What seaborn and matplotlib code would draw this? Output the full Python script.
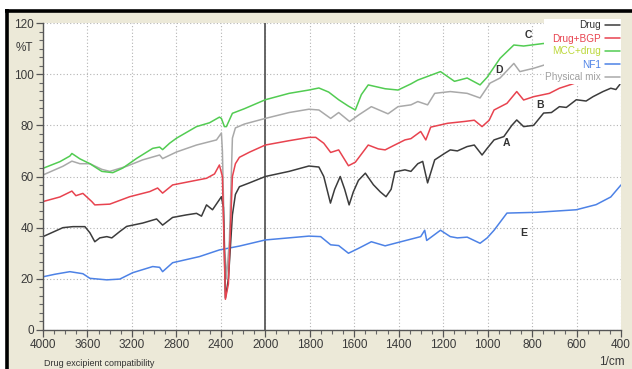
import numpy as np
import pandas as pd
import matplotlib
matplotlib.use("Agg")
import matplotlib.pyplot as plt
from matplotlib.lines import Line2D
from matplotlib.patches import Rectangle
from matplotlib.ticker import FixedLocator, AutoMinorLocator
import seaborn as sns

# ---- FTIR spectra (wavenumber in 1/cm, transmittance in %T) ----
drug_wn = [4000, 3821, 3731, 3623, 3578, 3534, 3489, 3426, 3381, 3309, 3247, 3103, 2978, 2924,
           2834, 2709, 2619, 2574, 2529, 2475, 2395, 2377, 2359, 2332, 2296, 2269, 2233, 2143,
           2000, 1893, 1804, 1759, 1737, 1707, 1688, 1663, 1643, 1623, 1604, 1581, 1550, 1514,
           1483, 1457, 1434, 1417, 1372, 1345, 1314, 1292, 1270, 1238, 1194, 1168, 1136, 1092,
           1060, 1025, 1002, 971, 927, 891, 869, 838, 793, 748, 713, 677, 646, 601, 557, 526,
           481, 446, 423, 405]
drug_t = [36.5, 40.0, 40.4, 40.4, 38.0, 34.5, 36.0, 36.5, 36.0, 38.5, 40.5, 41.8, 43.4, 41.0,
          44.0, 45.0, 45.6, 44.5, 48.9, 47.0, 52.1, 48.0, 12.5, 20.0, 45.0, 53.0, 56.0, 57.5,
          60.0, 62.0, 64.1, 63.7, 60.0, 49.6, 55.0, 60.0, 55.0, 48.9, 54.0, 58.5, 61.3, 56.8,
          54.0, 52.1, 55.0, 61.8, 62.6, 62.0, 65.0, 65.9, 57.5, 66.5, 69.0, 70.4, 70.0, 71.7,
          72.3, 68.4, 71.0, 74.3, 75.6, 80.0, 82.1, 79.5, 80.0, 84.8, 85.0, 87.3, 87.0, 90.0,
          89.5, 91.2, 93.2, 94.5, 94.0, 96.0]

bgp_wn = [4000, 3848, 3740, 3704, 3641, 3561, 3534, 3399, 3220, 3040, 2969, 2924, 2834, 2682,
          2529, 2457, 2413, 2386, 2359, 2332, 2296, 2269, 2233, 2143, 2000, 1893, 1804, 1773,
          1737, 1706, 1670, 1626, 1595, 1537, 1492, 1461, 1425, 1372, 1345, 1301, 1278, 1256,
          1180, 1105, 1060, 1025, 993, 971, 913, 869, 838, 793, 722, 677, 624, 557, 490, 423, 405]
bgp_t = [50.2, 52.0, 54.3, 52.5, 53.4, 50.2, 48.9, 49.2, 52.1, 54.1, 55.5, 53.5, 56.7, 58.0,
         59.3, 61.0, 64.5, 60.0, 12.0, 18.0, 60.0, 65.0, 67.5, 69.5, 72.3, 74.0, 75.3, 75.3,
         73.0, 69.4, 70.4, 64.2, 65.6, 72.3, 70.8, 70.4, 72.0, 74.3, 74.8, 77.6, 74.3, 79.3,
         80.8, 81.5, 82.0, 79.5, 82.0, 86.0, 88.6, 93.2, 89.9, 91.2, 92.5, 94.5, 96.0, 98.0,
         99.5, 101.6, 102.0]

mcc_wn = [4000, 3848, 3758, 3740, 3668, 3578, 3471, 3372, 3282, 3157, 3013, 2951, 2924, 2861,
          2798, 2619, 2502, 2413, 2395, 2368, 2350, 2296, 2188, 2000, 1893, 1804, 1759, 1715,
          1670, 1626, 1595, 1568, 1537, 1461, 1403, 1345, 1314, 1212, 1149, 1092, 1034, 1002,
          944, 882, 838, 748, 726, 646, 512]
mcc_t = [63.2, 65.8, 68.0, 69.0, 66.9, 65.0, 62.0, 61.5, 63.3, 67.1, 71.0, 71.5, 70.5, 73.0,
         75.0, 79.5, 81.0, 83.2, 82.7, 79.5, 79.5, 84.7, 86.5, 90.0, 92.5, 93.8, 94.6, 93.0,
         90.0, 87.5, 86.0, 92.0, 95.8, 94.3, 93.8, 96.2, 97.7, 101.0, 97.2, 98.5, 95.8, 98.8,
         106.2, 111.4, 111.0, 112.0, 111.5, 112.0, 113.0]

nf1_wn = [4000, 3892, 3758, 3641, 3578, 3426, 3309, 3193, 3013, 2951, 2924, 2834, 2592, 2413,
          2233, 2000, 1804, 1751, 1706, 1670, 1626, 1581, 1523, 1461, 1390, 1301, 1283, 1274,
          1212, 1168, 1136, 1092, 1034, 1002, 971, 913, 780, 601, 512, 446, 400]
nf1_t = [20.8, 21.8, 22.8, 22.0, 20.2, 19.6, 19.9, 22.4, 24.8, 24.5, 22.8, 26.3, 28.7, 31.3,
         32.8, 35.2, 36.7, 36.5, 33.3, 33.0, 30.0, 31.9, 34.5, 32.9, 34.5, 36.5, 39.0, 35.0,
         39.0, 36.5, 36.0, 36.3, 33.9, 36.0, 39.0, 45.7, 46.0, 47.0, 49.0, 52.0, 56.7]

mix_wn = [4000, 3821, 3740, 3668, 3578, 3471, 3399, 3247, 3103, 2951, 2924, 2798, 2619, 2439,
          2395, 2386, 2368, 2350, 2323, 2296, 2269, 2188, 2000, 1893, 1804, 1759, 1706, 1670,
          1621, 1581, 1523, 1448, 1403, 1345, 1314, 1270, 1238, 1168, 1092, 1034, 989, 944,
          882, 855, 793, 722, 691, 601, 468, 405]
mix_t = [60.6, 64.0, 66.0, 65.0, 65.0, 62.8, 62.0, 64.0, 66.5, 68.4, 67.0, 69.6, 72.3, 74.3,
         77.0, 70.0, 35.0, 20.0, 35.0, 75.0, 79.0, 80.5, 82.7, 85.0, 86.3, 86.0, 82.7, 85.0,
         81.5, 84.0, 87.3, 84.5, 87.3, 88.0, 89.3, 88.0, 92.5, 93.2, 92.5, 90.7, 96.5, 98.5,
         104.2, 101.0, 102.3, 104.2, 106.2, 107.0, 109.0, 110.0]

series_names = ["NF1", "Physical mix", "MCC+drug", "Drug", "Drug+BGP"]
series_wn = [nf1_wn, mix_wn, mcc_wn, drug_wn, bgp_wn]
series_t = [nf1_t, mix_t, mcc_t, drug_t, bgp_t]

line_colors = {"Drug": "#3c3c3c", "Drug+BGP": "#e8434f", "MCC+drug": "#52cc52",
               "NF1": "#4d82e6", "Physical mix": "#a9a9a9"}
label_colors = {"Drug": "#333333", "Drug+BGP": "#e8434f", "MCC+drug": "#bcd83a",
                "NF1": "#4d82e6", "Physical mix": "#a0a0a0"}
legend_order = ["Drug", "Drug+BGP", "MCC+drug", "NF1", "Physical mix"]

# curve letters: (label, wavenumber, %T)
curve_tags = [("A", 913, 73.0), ("B", 766, 88.0), ("C", 815, 115.3),
              ("D", 949, 101.6), ("E", 838, 38.0)]

x_major = [4000, 3600, 3200, 2800, 2400, 2000, 1800, 1600, 1400, 1200, 1000, 800, 600, 400]
y_major = [0, 20, 40, 60, 80, 100, 120]

frames = []
for name, wn, t in zip(series_names, series_wn, series_t):
    frames.append(pd.DataFrame({"wavenumber": wn, "T": t, "sample": name}))
spectra = pd.concat(frames, ignore_index=True)

sns.set_style("white")
plt.rcParams["font.family"] = ["Liberation Sans", "DejaVu Sans"]

fig = plt.figure(figsize=(6.32, 3.69), dpi=100, facecolor="white")

# instrument-software style panel
fig.add_artist(Rectangle((7 / 632, 0), 1 - 7 / 632, 1 - 11 / 369, transform=fig.transFigure,
                         facecolor="#ece9d8", edgecolor="none", zorder=-10))
fig.add_artist(Line2D([5 / 632, 1], [1 - 10.5 / 369] * 2, transform=fig.transFigure,
                      color="black", lw=2.6, solid_capstyle="butt"))
fig.add_artist(Line2D([6.5 / 632] * 2, [0, 1 - 9 / 369], transform=fig.transFigure,
                      color="black", lw=2.6, solid_capstyle="butt"))

ax = fig.add_axes([43 / 632, 1 - 330 / 369, (621 - 43) / 632, (330 - 23) / 369])
ax.set_facecolor("white")


# split wavenumber axis: 4000-2000 compressed, 2000-400 expanded twofold
def fwd(w):
    w = np.asarray(w, dtype=float)
    return np.where(w >= 2000, w / 400.0, 5.0 - (2000.0 - w) / 200.0)


def inv(u):
    u = np.asarray(u, dtype=float)
    return np.where(u >= 5, u * 400.0, 1000.0 + 200.0 * u)


ax.set_xscale("function", functions=(fwd, inv))

sns.lineplot(data=spectra, x="wavenumber", y="T", hue="sample", palette=line_colors,
             hue_order=series_names, estimator=None, sort=False, lw=1.1, legend=False, ax=ax)

ax.set_xlim(4000, 400)
ax.set_ylim(0, 120)
ax.axvline(2000, color="#5a5a5a", lw=1.3, zorder=1)

ax.xaxis.set_major_locator(FixedLocator(x_major))
minor_x = list(range(3900, 2000, -100)) + list(range(1950, 400, -50))
ax.xaxis.set_minor_locator(FixedLocator([m for m in minor_x if m not in x_major]))
ax.set_xticklabels([str(v) for v in x_major])
ax.yaxis.set_major_locator(FixedLocator(y_major))
ax.yaxis.set_minor_locator(AutoMinorLocator(6))
ax.set_yticklabels([str(v) for v in y_major])

ax.grid(which="major", color="#b4b4b4", lw=0.8, ls=(0, (1, 2)))
ax.tick_params(which="major", direction="out", length=5, width=0.9, color="#555555",
               labelsize=8.5, labelcolor="#3a3a3a", pad=1.5)
ax.tick_params(which="minor", direction="out", length=2.8, width=0.8, color="#666666")
ax.tick_params(axis="x", which="both", bottom=True)
ax.tick_params(axis="y", which="both", left=True)
for side in ("top", "right"):
    ax.spines[side].set_visible(False)
for side in ("left", "bottom"):
    ax.spines[side].set_color("#555555")
    ax.spines[side].set_linewidth(1.0)
ax.set_xlabel("")
ax.set_ylabel("")

for tag, wn, t in curve_tags:
    ax.text(wn, t, tag, fontsize=7.5, fontweight="bold", color="#333333",
            ha="center", va="center", zorder=5)

# legend: colored names with line samples on the right
handle_map = {name: Line2D([], [], color=line_colors[name], lw=1.1) for name in legend_order}
leg = ax.legend([handle_map[n] for n in legend_order], legend_order,
                loc="upper right", bbox_to_anchor=(621 / 632, 1 - 19 / 369),
                bbox_transform=fig.transFigure, markerfirst=False, fontsize=7.2,
                handlelength=1.5, handletextpad=0.35, labelspacing=0.3, borderpad=0.15,
                borderaxespad=0.0, frameon=True, fancybox=False, facecolor="white",
                edgecolor="none", framealpha=1.0)
leg.set_zorder(4)
for txt, name in zip(leg.get_texts(), legend_order):
    txt.set_color(label_colors[name])

fig.text(24 / 632, 1 - 48 / 369, "%T", fontsize=8.5, color="#3a3a3a", ha="center", va="center")
fig.text(612 / 632, 1 - 362 / 369, "1/cm", fontsize=8.5, color="#3a3a3a", ha="center",
         va="center")
fig.text(44 / 632, 1 - 364 / 369, "Drug excipient compatibility", fontsize=6.5,
         color="#333333", ha="left", va="center")

fig.savefig("out.png", dpi=100, facecolor=fig.get_facecolor())
